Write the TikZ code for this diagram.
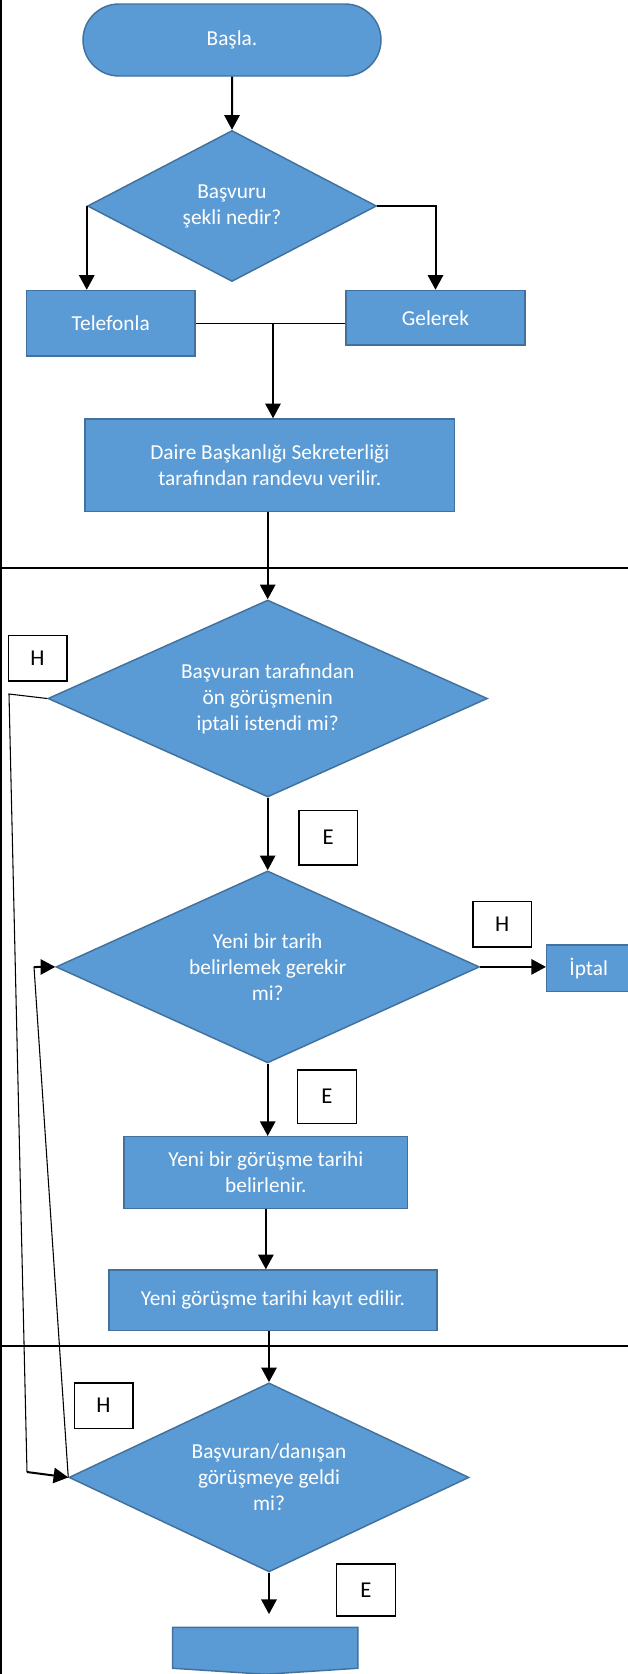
\documentclass[tikz,border=0pt]{standalone}
\usepackage{fontspec}
\setmainfont{Carlito}
\usepackage{tikz}
\usetikzlibrary{positioning,shapes.geometric,shapes.misc,arrows.meta}
\definecolor{boxblue}{HTML}{5B9BD5}
\definecolor{boxedge}{HTML}{41719C}

\begin{document}
\begin{tikzpicture}[x=0.75pt,y=-0.75pt]
\tikzstyle{blockfill}=[fill=boxblue, draw=boxedge, line width=1.1pt]
\tikzstyle{block}=[rectangle, blockfill, text=white, align=center, inner sep=0pt, font=\fontsize{16}{19.5}\selectfont]
\tikzstyle{terminal}=[block, rounded rectangle]
\tikzstyle{decision}=[block, diamond]
\tikzstyle{answer}=[rectangle, draw=black, line width=1pt, fill=white, minimum width=44pt, font=\fontsize{17}{20}\selectfont]
\tikzstyle{connect}=[-{Triangle[length=11pt,width=11.5pt]}, line width=1.5pt]
\tikzstyle{thinline}=[line width=0.8pt]
\tikzstyle{lane}=[line width=1.4pt]
\useasboundingbox (0,0) rectangle (628,1674);
% lanes
\draw[lane] (1,0) -- (1,1674);
\draw[lane] (0,568) -- (628,568);
\draw[lane] (0,1346) -- (628,1346);

\node[terminal, minimum width=223.5pt, minimum height=54pt] (basla) at (232,40) {Başla.};
\node[decision, shape aspect=1.9, minimum width=216.75pt, minimum height=113.25pt] (karar1) at (232,206) {Başvuru\\şekli nedir?};
\node[block, minimum width=126.4pt, minimum height=49.1pt] (telefon) at (110.75,323.25) {Telefonla};
\node[block, minimum width=134.25pt, minimum height=40.9pt] (gelerek) at (435.5,317.75) {Gelerek};
\node[block, minimum width=277.1pt, minimum height=69.5pt] (daire) at (269.75,465.35) {Daire Başkanlığı Sekreterliği\\tarafından randevu verilir.};
\node[decision, shape aspect=2.2, minimum width=329.6pt, minimum height=147.75pt] (karar2) at (267.7,698.5) {Başvuran tarafından\\ön görüşmenin\\iptali istendi mi?};
\node[decision, shape aspect=2.2, minimum width=317.6pt, minimum height=144pt] (karar3) at (267.7,966.9) {Yeni bir tarih\\belirlemek gerekir\\mi?};
\node[block, minimum width=63pt, minimum height=35pt] (iptal) at (588.7,968.3) {İptal};
\node[block, minimum width=212.8pt, minimum height=53.7pt] (yeni) at (265.85,1172.5) {Yeni bir görüşme tarihi\\belirlenir.};
\node[block, minimum width=246pt, minimum height=45.5pt] (kayit) at (273,1300.35) {Yeni görüşme tarihi kayıt edilir.};
\node[decision, shape aspect=2.1, minimum width=300pt, minimum height=141.75pt] (karar4) at (269,1477.4) {Başvuran/danışan\\görüşmeye geldi\\mi?};
\node[minimum width=138.5pt, minimum height=30.2pt, inner sep=0pt] (son) at (265.3,1647.85) {};
\filldraw[blockfill] (son.south west) -- (son.north west) -- (son.north east) -- (son.south east) -- ([yshift=-4.5pt]son.south) -- cycle;

% E / H answers
\node[answer, minimum height=34pt] (h1) at (37.5,658.4) {H};
\node[answer, minimum height=41pt] (e1) at (328.2,837.5) {E};
\node[answer, minimum height=34pt] (h2) at (502.2,924.2) {H};
\node[answer, minimum height=40pt] (e2) at (327,1096.5) {E};
\node[answer, minimum height=34pt] (h3) at (103.5,1405.5) {H};
\node[answer, minimum height=39pt] (e3) at (365.85,1589.85) {E};

\draw[connect] (basla) -- (karar1);
\draw[connect] (karar1.west) -- (karar1.west |- telefon.north);
\draw[connect] (karar1.east) -| (gelerek.north);
\draw[thinline] (telefon.east) -- (telefon.east -| gelerek.west);
\coordinate (birles) at (273,323.25);
\draw[connect] (birles) -- (birles |- daire.north);
\draw[connect] (karar2.north |- daire.south) -- (karar2.north);
\draw[connect] (karar2) -- (karar3);
\draw[connect] (karar3.east) -- (karar3.east -| iptal.west);
\draw[connect] (karar3.south) -- (karar3.south |- yeni.north);
\draw[connect] (yeni.south) -- (yeni.south |- kayit.north);
\draw[connect] (karar4.north |- kayit.south) -- (karar4.north);
\draw[connect, shorten >=10pt] (karar4.south) -- (karar4.south |- son.north);

% H loops
\coordinate (solust) at (9,694);
\coordinate (solalt) at (27,1472);
\coordinate (solorta) at (34,967);
\draw[thinline] (karar2.west) -- (solust) -- (solalt);
\draw[connect] (solalt) -- (karar4.west);
\draw[thinline] (karar4.west) -- (solorta);
\draw[connect] (solorta) -- (karar3.west);
\end{tikzpicture}
\end{document}
